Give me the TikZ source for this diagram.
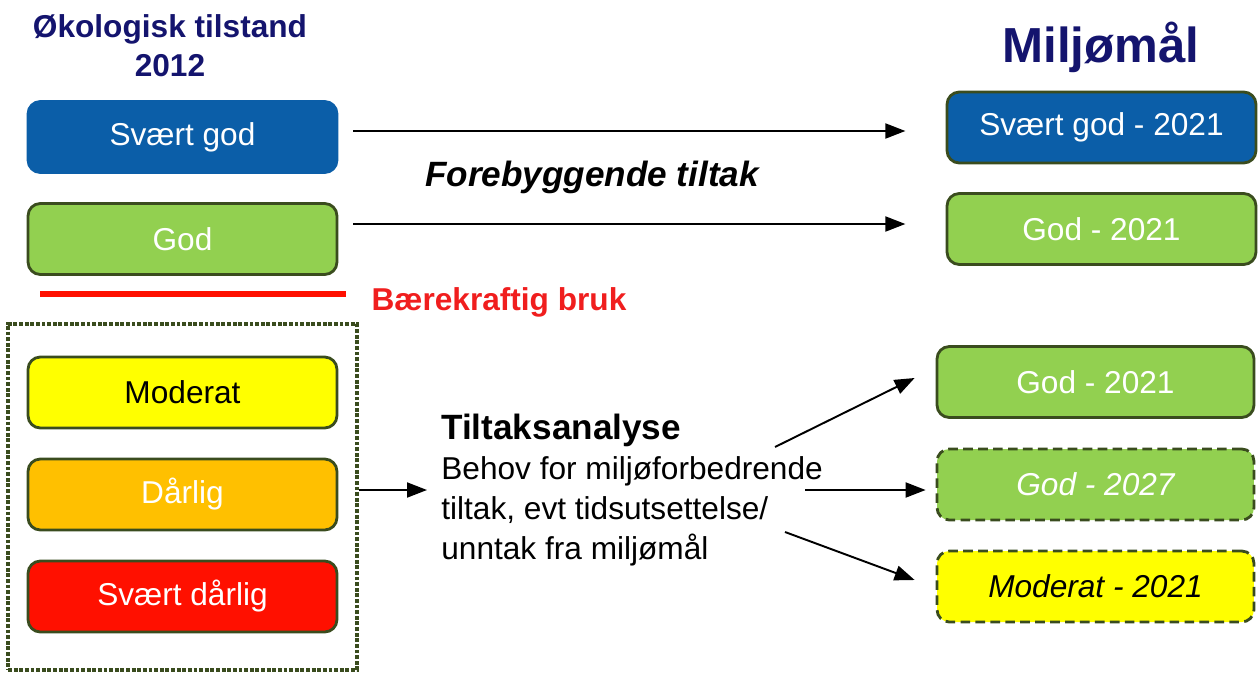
\documentclass[tikz,border=0pt]{standalone}
\usepackage{fontspec}
\setmainfont{Liberation Sans}
\usetikzlibrary{arrows.meta}

\definecolor{sgblue}{HTML}{0B5EA8}
\definecolor{godgreen}{HTML}{92D050}
\definecolor{modyellow}{HTML}{FFFF00}
\definecolor{darlorange}{HTML}{FFC000}
\definecolor{sdred}{HTML}{FF1000}
\definecolor{kant}{HTML}{3A4C1E}
\definecolor{titlenavy}{HTML}{14146E}
\definecolor{bruk}{HTML}{F01E1E}

\tikzset{
  klasse/.style={draw=kant, line width=1.6pt, rounded corners=7pt,
    minimum width=6.18cm, minimum height=1.42cm, text=white,
    font=\fontsize{18}{22}\selectfont},
  maal/.style={klasse, minimum width=6.34cm},
  usikker/.style={dash pattern=on 5.5pt off 3pt},
  pil/.style={line width=1.1pt, -{Triangle[length=0.4cm,width=0.3cm]}}
}

\begin{document}
\begin{tikzpicture}[x=0.02cm,y=-0.02cm]
\useasboundingbox (0,0) rectangle (1258,673);
% titles
\node[align=center, text=titlenavy, font=\fontsize{18}{22}\bfseries] (tilstand) at (170,46) {Økologisk tilstand\\2012};
\node[text=titlenavy, font=\fontsize{28}{32}\bfseries] (miljomal) at (1101,47) {Miljømål};
% status 2012
\node[klasse, fill=sgblue, draw=sgblue] (sgod) at (182.5,137) {Svært god};
\node[klasse, fill=godgreen] (god) at (182.5,239) {God};
\draw[sdred, line width=3.4pt] (40,294) -- (346,294);
\node[text=bruk, font=\fontsize{18}{22}\bfseries] (baerekraft) at (499,302) {Bærekraftig bruk};
\node[draw=kant, line width=2pt, dash pattern=on 2.2pt off 1pt, minimum width=6.98cm, minimum height=6.92cm] (ramme) at (182.5,497) {};
\node[klasse, fill=modyellow, text=black] (moderat) at (182.5,392.5) {Moderat};
\node[klasse, fill=darlorange] (darlig) at (182.5,494.5) {Dårlig};
\node[klasse, fill=sdred] (sdarlig) at (182.5,596.5) {Svært dårlig};
% miljomal 2021/2027
\node[klasse, fill=sgblue] (sgodm) at (1101.5,127.5) {Svært god - 2021};
\node[klasse, fill=godgreen] (godm) at (1101.5,229) {God - 2021};
\node[maal, fill=godgreen] (god21) at (1095.5,382) {God - 2021};
\node[maal, usikker, fill=godgreen, font=\fontsize{18}{22}\itshape] (god27) at (1095.5,484.5) {God - 2027};
\node[maal, usikker, fill=modyellow, text=black, font=\fontsize{18}{22}\itshape] (mod21) at (1095.5,586.5) {Moderat - 2021};
% forebyggende
\node[font=\fontsize{20}{24}\bfseries\itshape] (forebygg) at (592,177) {Forebyggende tiltak};
\draw[pil] (sgod.east) ++(15,-6) -- ++(552,0);
\draw[pil] (god.east) ++(15,-15) -- ++(552,0);
% tiltaksanalyse
\node[anchor=north west, align=left, inner sep=0pt, font=\fontsize{18}{22.7}\selectfont] (analyse) at (441,414)
  {{\fontsize{20}{24}\bfseries Tiltaksanalyse}\\[0pt]Behov for miljøforbedrende\\tiltak, evt tidsutsettelse/\\unntak fra miljømål};
\coordinate (inn) at (427,490);
\draw[pil] (ramme.east |- inn) -- (inn);
\coordinate (ut1) at (775,447);
\coordinate (ut2) at (805,490);
\coordinate (ut3) at (785,532);
\draw[pil] (ut1) -- ([xshift=-0.42cm,yshift=0.08cm]god21.west);
\draw[pil] (ut2) -- ([xshift=-0.2cm,yshift=-0.11cm]god27.west);
\draw[pil] (ut3) -- ([xshift=-0.42cm,yshift=0.13cm]mod21.west);
\end{tikzpicture}
\end{document}
